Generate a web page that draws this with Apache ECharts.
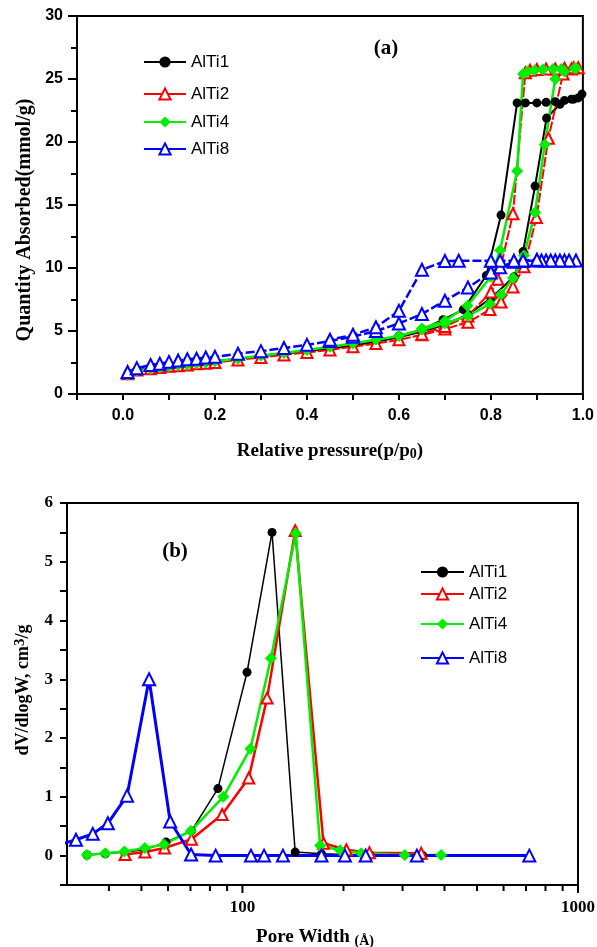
<!DOCTYPE html>
<html>
<head>
<meta charset="utf-8">
<title>AlTi isotherms and pore size</title>
<script src="https://cdn.jsdelivr.net/npm/echarts@6/dist/echarts.min.js"></script>
<style>
    html, body { margin: 0; padding: 0; background: #fff; }
    #main { width: 597px; height: 947px; }
</style>
</head>
<body>
<div id="main"></div>
<script>
// (a) 吸附等温线: 先吸附支, 再脱附支
var alti1P = [0.01, 0.03, 0.06, 0.08, 0.10, 0.12, 0.14, 0.16, 0.18, 0.20, 0.25, 0.30, 0.35, 0.40, 0.45, 0.50, 0.55, 0.60, 0.65, 0.70, 0.75, 0.80, 0.85, 0.87, 0.896, 0.921, 0.95, 0.98, 0.998,
    0.99, 0.975, 0.96, 0.94, 0.92, 0.90, 0.875, 0.857, 0.822, 0.79, 0.74, 0.696, 0.65, 0.60];
var alti1Q = [1.6, 1.9, 2.05, 2.15, 2.25, 2.3, 2.4, 2.45, 2.5, 2.6, 2.8, 3.0, 3.2, 3.4, 3.6, 3.85, 4.15, 4.5, 4.95, 5.5, 6.3, 7.6, 9.3, 11.3, 16.5, 21.9, 23.0, 23.4, 23.8,
    23.5, 23.4, 23.3, 23.2, 23.15, 23.1, 23.1, 23.1, 14.2, 9.4, 6.7, 5.9, 5.1, 4.6];

var alti2P = [0.01, 0.03, 0.06, 0.08, 0.10, 0.12, 0.14, 0.16, 0.18, 0.20, 0.25, 0.30, 0.35, 0.40, 0.45, 0.50, 0.55, 0.60, 0.65, 0.70, 0.75, 0.798, 0.822, 0.848, 0.872, 0.899, 0.925, 0.957, 0.975, 0.99,
    0.98, 0.96, 0.94, 0.92, 0.90, 0.885, 0.875, 0.848, 0.815, 0.80, 0.75, 0.70, 0.65];
var alti2Q = [1.6, 1.9, 2.0, 2.1, 2.2, 2.25, 2.3, 2.4, 2.45, 2.5, 2.7, 2.9, 3.1, 3.3, 3.5, 3.75, 4.0, 4.3, 4.7, 5.15, 5.7, 6.7, 7.3, 8.5, 10.1, 14.0, 20.3, 25.4, 25.8, 25.9,
    25.9, 25.85, 25.8, 25.8, 25.75, 25.7, 25.5, 14.3, 9.1, 8.1, 6.2, 5.35, 4.75];

var alti4P = [0.01, 0.03, 0.06, 0.08, 0.10, 0.12, 0.14, 0.16, 0.18, 0.20, 0.25, 0.30, 0.35, 0.40, 0.45, 0.50, 0.55, 0.60, 0.65, 0.70, 0.75, 0.798, 0.822, 0.848, 0.872, 0.896, 0.917, 0.94, 0.96, 0.985,
    0.982, 0.953, 0.935, 0.913, 0.895, 0.88, 0.87, 0.857, 0.82, 0.80, 0.749, 0.70, 0.65];
var alti4Q = [1.5, 1.85, 2.0, 2.1, 2.2, 2.3, 2.35, 2.45, 2.5, 2.6, 2.8, 3.05, 3.25, 3.5, 3.75, 4.0, 4.3, 4.6, 5.1, 5.6, 6.2, 7.16, 7.9, 9.2, 11.0, 14.4, 19.8, 25.0, 25.6, 25.85,
    25.85, 25.8, 25.8, 25.75, 25.7, 25.6, 25.4, 17.7, 11.4, 9.3, 7.0, 5.8, 5.2];

var alti8P = [0.01, 0.03, 0.06, 0.08, 0.10, 0.12, 0.14, 0.16, 0.18, 0.20, 0.25, 0.30, 0.35, 0.40, 0.45, 0.50, 0.55, 0.60, 0.65, 0.70, 0.75, 0.80, 0.82, 0.85, 0.87, 0.90, 0.92, 0.94, 0.96, 0.985,
    0.97, 0.95, 0.93, 0.91, 0.90, 0.87, 0.85, 0.82, 0.80, 0.73, 0.70, 0.65, 0.60, 0.55, 0.50, 0.45];
var alti8Q = [1.75, 2.05, 2.3, 2.4, 2.55, 2.65, 2.75, 2.8, 2.9, 2.95, 3.2, 3.4, 3.65, 3.9, 4.2, 4.55, 5.0, 5.6, 6.35, 7.4, 8.45, 9.65, 10.05, 10.5, 10.55, 10.6, 10.6, 10.6, 10.6, 10.6,
    10.6, 10.6, 10.6, 10.6, 10.65, 10.6, 10.58, 10.58, 10.58, 10.58, 10.55, 9.86, 6.6, 5.3, 4.7, 4.3];

// (b) 孔径分布
var alti1W = [34.4, 39, 44.5, 51.2, 59.2, 70.5, 84.5, 103.2, 122.5, 143.6, 172, 204, 240, 345];
var alti1V = [0.01, 0.03, 0.06, 0.1, 0.23, 0.42, 1.14, 3.12, 5.5, 0.06, 0.03, 0.02, 0.01, 0.0];
var alti2W = [44.7, 51.2, 58.6, 70.5, 87, 104.4, 118.4, 143.6, 174.4, 204, 239, 341];
var alti2V = [0.02, 0.06, 0.13, 0.28, 0.7, 1.32, 2.68, 5.53, 0.21, 0.1, 0.05, 0.04];
var alti4W = [34.4, 39, 44.5, 51.2, 58.4, 70.2, 87.7, 105.6, 121.6, 144.2, 170.4, 195.5, 226, 304.6, 391];
var alti4V = [0.01, 0.04, 0.07, 0.13, 0.19, 0.42, 1.0, 1.82, 3.36, 5.48, 0.17, 0.09, 0.04, 0.01, 0.01];
var alti8W = [29, 31.9, 35.8, 39.7, 45.3, 52.7, 60.9, 70.3, 83.2, 106, 116, 132, 172, 202, 233, 331, 716];
var alti8V = [0.2, 0.27, 0.37, 0.55, 1.02, 3.0, 0.58, 0.02, 0.0, 0.0, 0.0, 0.0, 0.0, 0.0, 0.0, 0.0, 0.0];

// (b) 对数轴刻度
var xTicksB = [40, 50, 60, 70, 80, 90, 100, 200, 300, 400, 500, 600, 700, 800, 900, 1000];
var xLabelsB = [100, 1000];

var names = ['AlTi1', 'AlTi2', 'AlTi4', 'AlTi8'];

(function() {
    var myChart = echarts.init(document.getElementById('main'));

    function pairs(xs, ys) {
        return xs.map(function(x, i) { return [x, ys[i]]; });
    }

    var sans = '"Liberation Sans", Arial, sans-serif';
    var serif = '"Liberation Serif", "Times New Roman", serif';

    // 四条曲线的样式
    var looks = [
        { color: '#000000', symbol: 'circle', size: 9, dashA: 'solid', widthA: 2, widthB: 1.5 },
        { color: '#ff0000', symbol: 'emptyTriangle', size: 11, dashA: [10, 2], widthA: 2, widthB: 2.5 },
        { color: '#00ee00', symbol: 'diamond', size: 12, dashA: 'solid', widthA: 2.5, widthB: 2.5 },
        { color: '#0000ff', symbol: 'emptyTriangle', size: 12, dashA: [9, 3], widthA: 2.5, widthB: 3 }
    ];
    var dataA = [pairs(alti1P, alti1Q), pairs(alti2P, alti2Q), pairs(alti4P, alti4Q), pairs(alti8P, alti8Q)];
    var dataB = [pairs(alti1W, alti1V), pairs(alti2W, alti2V), pairs(alti4W, alti4V), pairs(alti8W, alti8V)];

    var series = [];
    names.forEach(function(n, i) {
        var lk = looks[i];
        series.push({
            name: n,
            type: 'line',
            xAxisIndex: 0,
            yAxisIndex: 0,
            symbol: lk.symbol,
            symbolSize: lk.size,
            itemStyle: { color: lk.color, borderWidth: 1.2 },
            lineStyle: { color: lk.color, width: lk.widthA, type: lk.dashA },
            data: dataA[i]
        });
    });
    names.forEach(function(n, i) {
        var lk = looks[i];
        series.push({
            name: n + ' (b)',
            type: 'line',
            xAxisIndex: 1,
            yAxisIndex: 1,
            symbol: lk.symbol,
            symbolSize: lk.size,
            itemStyle: { color: lk.color, borderWidth: 1.2 },
            lineStyle: { color: lk.color, width: lk.widthB },
            data: dataB[i]
        });
    });

    // 对数轴的刻度线和标签, 用 custom 画
    series.push({
        type: 'custom',
        xAxisIndex: 1,
        yAxisIndex: 1,
        silent: true,
        clip: false,
        renderItem: function(params, api) {
            var v = api.value(0);
            var p = api.coord([v, -0.5]);
            var major = xLabelsB.indexOf(v) > -1;
            var children = [{
                type: 'line',
                shape: { x1: p[0], y1: p[1], x2: p[0], y2: p[1] + (major ? 8 : 6) },
                style: { stroke: '#000', lineWidth: 2 }
            }];
            if (major) {
                children.push({
                    type: 'text',
                    x: p[0],
                    y: p[1] + 14,
                    style: {
                        text: String(v), fontSize: 17, fontWeight: 'bold', fontFamily: serif,
                        fill: '#000', align: 'center', verticalAlign: 'top'
                    }
                });
            }
            return { type: 'group', children: children };
        },
        data: xTicksB.map(function(v) { return [v, 0]; })
    });

    // 每个图例单独放, 位置对齐原图
    var legendRowsA = [62, 94, 122, 149];
    var legendRowsB = [572, 594, 624, 658];
    var legends = [];
    names.forEach(function(n, i) {
        legends.push({
            data: [n], left: 143, top: legendRowsA[i] - 10, padding: 0, itemGap: 0,
            itemWidth: 42, itemHeight: 14, selectedMode: false,
            lineStyle: { type: 'solid' },
            textStyle: { fontSize: 17, fontFamily: sans, color: '#000', lineHeight: 20 }
        });
        legends.push({
            data: [n + ' (b)'], left: 420, top: legendRowsB[i] - 10, padding: 0, itemGap: 0,
            itemWidth: 43, itemHeight: 14, selectedMode: false,
            formatter: function(name) { return name.replace(' (b)', ''); },
            lineStyle: { type: 'solid' },
            textStyle: { fontSize: 17, fontFamily: sans, color: '#000', lineHeight: 20 }
        });
    });

    var blackLine = { onZero: false, lineStyle: { color: '#000', width: 2 } };

    option = {
        backgroundColor: '#fff',
        animation: false,
        legend: legends,
        grid: [
            { left: 77, top: 16, width: 507, height: 378, show: true, borderColor: '#000', borderWidth: 2 },
            { left: 67, top: 503, width: 511, height: 382, show: true, borderColor: '#000', borderWidth: 2 }
        ],
        xAxis: [{
            gridIndex: 0,
            type: 'value',
            min: -0.1,
            max: 1.0,
            interval: 0.1,
            axisLine: blackLine,
            axisTick: { length: 6, lineStyle: { color: '#000', width: 2 } },
            axisLabel: {
                margin: 14, fontSize: 16, fontWeight: 'bold', fontFamily: sans, color: '#000',
                formatter: function(v) {
                    var k = Math.round(v * 10);
                    return (k >= 0 && k % 2 === 0) ? (k / 10).toFixed(1) : '';
                }
            },
            splitLine: { show: false }
        }, {
            gridIndex: 1,
            type: 'log',
            logBase: 10,
            min: 30,
            max: 1000,
            axisLine: blackLine,
            axisTick: { show: false },
            axisLabel: { show: false },
            splitLine: { show: false },
            minorSplitLine: { show: false }
        }],
        yAxis: [{
            gridIndex: 0,
            type: 'value',
            min: 0,
            max: 30,
            interval: 5,
            axisLine: blackLine,
            axisTick: { length: 9, lineStyle: { color: '#000', width: 2 } },
            minorTick: { show: true, splitNumber: 2, length: 6, lineStyle: { color: '#000', width: 2 } },
            axisLabel: { margin: 14, fontSize: 16, fontWeight: 'bold', fontFamily: sans, color: '#000' },
            splitLine: { show: false }
        }, {
            gridIndex: 1,
            type: 'value',
            min: -0.5,
            max: 6,
            interval: 0.5,
            axisLine: blackLine,
            axisTick: { length: 7, lineStyle: { color: '#000', width: 2 } },
            axisLabel: {
                margin: 14, fontSize: 17, fontWeight: 'bold', fontFamily: serif, color: '#000',
                formatter: function(v) { return Math.abs(v % 1) < 1e-9 ? String(v) : ''; }
            },
            splitLine: { show: false }
        }],
        graphic: [{
            type: 'text', x: 386, y: 49,
            style: { text: '(a)', fontSize: 21, fontWeight: 'bold', fontFamily: serif, fill: '#000', align: 'center', verticalAlign: 'middle' }
        }, {
            type: 'text', x: 175, y: 552,
            style: { text: '(b)', fontSize: 21, fontWeight: 'bold', fontFamily: serif, fill: '#000', align: 'center', verticalAlign: 'middle' }
        }, {
            type: 'text', x: 25, y: 220, rotation: Math.PI / 2,
            style: { text: 'Quantity Absorbed(mmol/g)', fontSize: 20, fontWeight: 'bold', fontFamily: serif, fill: '#000', align: 'center', verticalAlign: 'middle' }
        }, {
            type: 'text', x: 330, y: 451,
            style: {
                text: 'Relative pressure(p/p{sub|0})', fontSize: 19, fontWeight: 'bold', fontFamily: serif, fill: '#000',
                align: 'center', verticalAlign: 'middle', lineHeight: 20,
                rich: { sub: { fontSize: 14, fontWeight: 'bold', fontFamily: serif, fill: '#000', lineHeight: 8, verticalAlign: 'bottom' } }
            }
        }, {
            type: 'text', x: 23, y: 690, rotation: Math.PI / 2,
            style: {
                text: 'dV/dlogW, cm{sup|3}/g', fontSize: 18, fontWeight: 'bold', fontFamily: serif, fill: '#000',
                align: 'center', verticalAlign: 'middle', lineHeight: 20,
                rich: { sup: { fontSize: 15, fontWeight: 'bold', fontFamily: serif, fill: '#000', lineHeight: 8, verticalAlign: 'top' } }
            }
        }, {
            type: 'text', x: 315, y: 937,
            style: {
                text: 'Pore Width {s|(Å)}', fontSize: 19, fontWeight: 'bold', fontFamily: serif, fill: '#000',
                align: 'center', verticalAlign: 'middle', lineHeight: 22,
                rich: { s: { fontSize: 14, fontWeight: 'bold', fontFamily: serif, fill: '#000', lineHeight: 20, verticalAlign: 'bottom' } }
            }
        }],
        series: series
    };

    myChart.setOption(option);
})();
</script>
</body>
</html>
